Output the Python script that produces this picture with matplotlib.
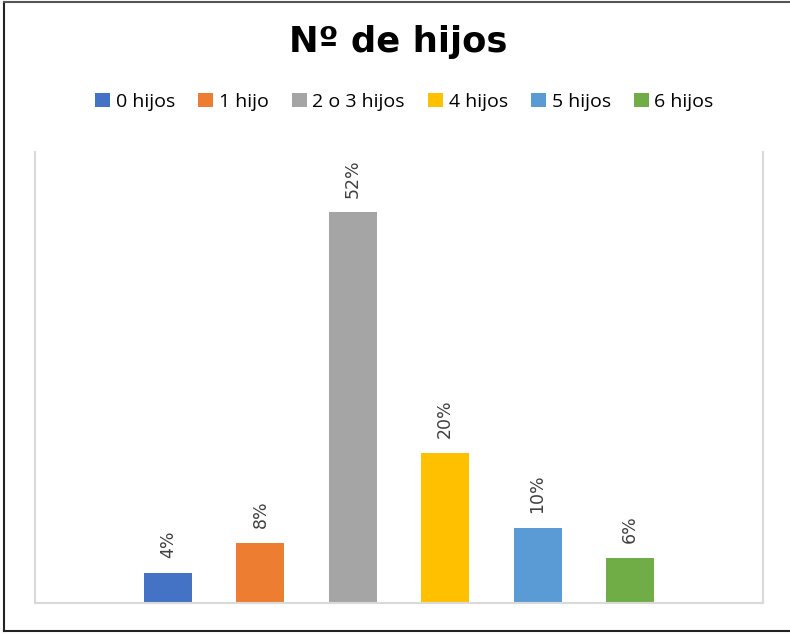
import matplotlib
matplotlib.use("Agg")
import matplotlib.pyplot as plt
from matplotlib.lines import Line2D
from matplotlib.patches import Patch

categories = ["0 hijos", "1 hijo", "2 o 3 hijos", "4 hijos", "5 hijos", "6 hijos"]
values = [4, 8, 52, 20, 10, 6]
labels = ["4%", "8%", "52%", "20%", "10%", "6%"]
colors = ["#4472C4", "#ED7D31", "#A5A5A5", "#FFC000", "#5B9BD5", "#70AD47"]

fig = plt.figure(figsize=(7.9, 6.34), dpi=100)
ax = fig.add_axes([35/790, 31/634, (763-35)/790, (603-152)/634])

x = list(range(len(categories)))
bars = ax.bar(x, values, width=0.52, color=colors, zorder=2)
ax.set_xlim(-1.44, 5.44 + 1.0)
ax.set_ylim(0, 60)

for xi, v, lab in zip(x, values, labels):
    ax.annotate(lab, (xi, v), xytext=(0, 10.5), textcoords="offset points",
                rotation=90, ha="center", va="bottom", fontsize=12.5,
                color="#404040", family="DejaVu Sans")

for s in ["top"]:
    ax.spines[s].set_visible(False)
for s in ["left", "right", "bottom"]:
    ax.spines[s].set_color("#D9D9D9")
    ax.spines[s].set_linewidth(1.5)
ax.set_xticks([])
ax.set_yticks([])

fig.text(398/790, 1 - 42/634, "Nº de hijos", ha="center", va="center",
         fontsize=25.5, fontweight="bold", family="DejaVu Sans", color="black")

handles = [Patch(facecolor=c, edgecolor="none") for c in colors]
fig.legend(handles, categories, loc="center", bbox_to_anchor=(404.5/790, 1 - 102/634),
           ncol=6, frameon=False, handlelength=0.75, handleheight=0.75,
           handletextpad=0.3, columnspacing=1.2, prop={"family": "Open Sans", "size": 14})

# chart frame
fig.add_artist(Line2D([4/790, 4/790], [1 - 2/634, 1 - 631/634], transform=fig.transFigure, color="#222222", lw=1.5))
fig.add_artist(Line2D([4/790, 1], [1 - 2/634, 1 - 2/634], transform=fig.transFigure, color="#555555", lw=1.5))
fig.add_artist(Line2D([4/790, 1], [1 - 631/634, 1 - 631/634], transform=fig.transFigure, color="#222222", lw=1.5))

fig.savefig("out.png", dpi=100)
